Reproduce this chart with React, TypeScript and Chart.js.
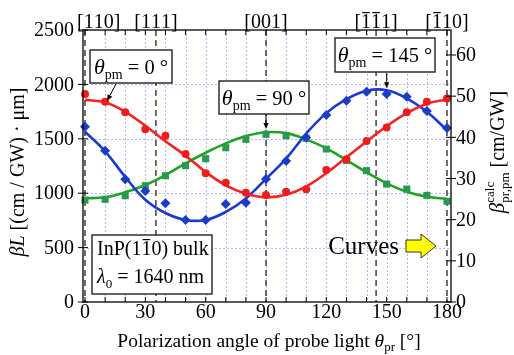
import React, { useEffect, useRef } from "react";
import { Chart, registerables } from "chart.js";

Chart.register(...registerables);

// ---------- data ----------
const ANGLES = [0, 10, 20, 30, 40, 50, 60, 70, 80, 90, 100, 110, 120, 130, 140, 150, 160, 170, 180];
const RED_PTS = [1912, 1841, 1743, 1587, 1528, 1360, 1183, 1097, 1005, 983, 1014, 1036, 1213, 1311, 1480, 1605, 1743, 1840, 1870];
const BLUE_PTS = [1611, 1391, 1128, 1020, 907, 754, 754, 901, 913, 1130, 1296, 1513, 1719, 1850, 1933, 1912, 1887, 1755, 1599];
const GREEN_PTS = [937, 944, 977, 1069, 1161, 1253, 1317, 1418, 1495, 1541, 1528, 1505, 1406, 1300, 1207, 1084, 1038, 980, 926];
const RED_FIT = [1858, 1835, 1748, 1620, 1478, 1345, 1195, 1072, 995, 962, 985, 1062, 1185, 1330, 1475, 1615, 1735, 1822, 1862];
const BLUE_FIT = [1565, 1385, 1150, 940, 818, 754, 754, 828, 952, 1132, 1318, 1548, 1736, 1864, 1942, 1947, 1872, 1748, 1580];
const GREEN_FIT = [953, 962, 1008, 1075, 1167, 1275, 1372, 1458, 1525, 1560, 1552, 1495, 1412, 1305, 1192, 1091, 1014, 968, 947];

const X_TICKS = [0, 30, 60, 90, 120, 150, 180];
const Y_TICKS = [0, 500, 1000, 1500, 2000, 2500];
const Y2_TICKS = [0, 10, 20, 30, 40, 50, 60];
const CRYSTAL_ANGLES = [0, 35.26, 90, 144.74, 180];
const CRYSTAL_LABELS = ["[110]", "[111]", "[001]", "[-1-11]", "[-110]"];
const PM_LABELS = ["0", "90", "145"];

// ---------- styling ----------
const FONT = "'Liberation Serif', 'Times New Roman', Times, serif";
const RED = "#f01c1c";
const RED_LINE = "#f52222";
const BLUE = "#1c3cc8";
const BLUE_LINE = "#1a3ad2";
const GREEN = "#279a4e";
const GREEN_LINE = "#1ea424";
const GRID = "#b6b6ee";

Chart.defaults.font.family = FONT;
Chart.defaults.font.size = 20;
Chart.defaults.color = "#000";

type Part = { t: string; s: number; i?: boolean; dy?: number; bar?: boolean; sub?: Part };

const fnt = (s: number, i?: boolean) => `${i ? "italic " : ""}${s}px ${FONT}`;

function widthOf(ctx: CanvasRenderingContext2D, parts: Part[]) {
  let w = 0;
  for (const p of parts) {
    ctx.font = fnt(p.s, p.i);
    let pw = ctx.measureText(p.t).width;
    if (p.sub) {
      ctx.font = fnt(p.sub.s, p.sub.i);
      pw = Math.max(pw, ctx.measureText(p.sub.t).width);
    }
    w += pw;
  }
  return w;
}

function drawParts(ctx: CanvasRenderingContext2D, parts: Part[], x: number, y: number, align: "left" | "center" | "right" = "left") {
  const total = widthOf(ctx, parts);
  let cx = align === "left" ? x : align === "center" ? x - total / 2 : x - total;
  ctx.textAlign = "left";
  ctx.textBaseline = "alphabetic";
  ctx.fillStyle = "#000";
  for (const p of parts) {
    ctx.font = fnt(p.s, p.i);
    const w = ctx.measureText(p.t).width;
    ctx.fillText(p.t, cx, y + (p.dy || 0));
    if (p.bar) {
      ctx.save();
      ctx.strokeStyle = "#000";
      ctx.lineWidth = 1.2;
      const by = y + (p.dy || 0) - p.s * 0.77;
      ctx.beginPath();
      ctx.moveTo(cx + w * 0.12, by);
      ctx.lineTo(cx + w * 0.88, by);
      ctx.stroke();
      ctx.restore();
    }
    let adv = w;
    if (p.sub) {
      ctx.font = fnt(p.sub.s, p.sub.i);
      const w2 = ctx.measureText(p.sub.t).width;
      ctx.fillText(p.sub.t, cx, y + (p.sub.dy || 0));
      adv = Math.max(w, w2);
    }
    cx += adv;
  }
  return total;
}

function parseBar(label: string, s: number): Part[] {
  const out: Part[] = [];
  for (let k = 0; k < label.length; k++) {
    if (label[k] === "-") {
      out.push({ t: label[k + 1], s, bar: true });
      k++;
    } else out.push({ t: label[k], s });
  }
  return out;
}

function arrow(ctx: CanvasRenderingContext2D, x1: number, y1: number, x2: number, y2: number) {
  const a = Math.atan2(y2 - y1, x2 - x1);
  const L = 6, W = 2.6;
  ctx.save();
  ctx.strokeStyle = "#000";
  ctx.fillStyle = "#000";
  ctx.lineWidth = 1;
  ctx.beginPath();
  ctx.moveTo(x1, y1);
  ctx.lineTo(x2 - Math.cos(a) * L, y2 - Math.sin(a) * L);
  ctx.stroke();
  ctx.beginPath();
  ctx.moveTo(x2, y2);
  ctx.lineTo(x2 - Math.cos(a) * L - Math.sin(a) * W, y2 - Math.sin(a) * L + Math.cos(a) * W);
  ctx.lineTo(x2 - Math.cos(a) * L + Math.sin(a) * W, y2 - Math.sin(a) * L - Math.cos(a) * W);
  ctx.closePath();
  ctx.fill();
  ctx.restore();
}

function box(ctx: CanvasRenderingContext2D, x1: number, y1: number, x2: number, y2: number) {
  ctx.save();
  ctx.fillStyle = "#fff";
  ctx.fillRect(x1, y1, x2 - x1, y2 - y1);
  ctx.strokeStyle = "#222";
  ctx.lineWidth = 1.4;
  ctx.strokeRect(x1, y1, x2 - x1, y2 - y1);
  ctx.restore();
}

const decorPlugin = {
  id: "decor",
  beforeDatasetsDraw(chart: any) {
    const ctx: CanvasRenderingContext2D = chart.ctx;
    const { left, right, top, bottom } = chart.chartArea;
    const xs = chart.scales.x;
    const ys = chart.scales.y;
    ctx.save();
    ctx.strokeStyle = GRID;
    ctx.lineWidth = 1;
    ctx.setLineDash([2, 2]);
    for (let a = 10; a <= 170; a += 10) {
      const px = Math.round(xs.getPixelForValue(a)) + 0.5;
      ctx.beginPath();
      ctx.moveTo(px, top);
      ctx.lineTo(px, bottom);
      ctx.stroke();
    }
    for (const v of Y_TICKS) {
      if (v === 0 || v === 2500) continue;
      const py = Math.round(ys.getPixelForValue(v)) + 0.5;
      ctx.beginPath();
      ctx.moveTo(left, py);
      ctx.lineTo(right, py);
      ctx.stroke();
    }
    ctx.strokeStyle = "#222";
    ctx.lineWidth = 1.3;
    ctx.setLineDash([6, 4]);
    for (const a of CRYSTAL_ANGLES) {
      const px = xs.getPixelForValue(a);
      ctx.beginPath();
      ctx.moveTo(px, top);
      ctx.lineTo(px, bottom);
      ctx.stroke();
    }
    ctx.restore();
  },
  afterDatasetsDraw(chart: any) {
    const ctx: CanvasRenderingContext2D = chart.ctx;
    const { left, right, top, bottom } = chart.chartArea;
    const xs = chart.scales.x;
    const ys = chart.scales.y;
    const y2s = chart.scales.y2;
    ctx.save();
    ctx.strokeStyle = "#000";
    ctx.lineWidth = 1.3;
    ctx.strokeRect(left, top, right - left, bottom - top);
    ctx.lineWidth = 1;
    ctx.beginPath();
    for (let a = 0; a <= 180; a += 10) {
      const px = xs.getPixelForValue(a);
      ctx.moveTo(px, top);
      ctx.lineTo(px, top + 5);
      ctx.moveTo(px, bottom);
      ctx.lineTo(px, bottom - 5);
    }
    for (const t of ys.ticks) {
      const py = ys.getPixelForValue(t.value);
      ctx.moveTo(left - 5, py);
      ctx.lineTo(left + 5, py);
    }
    for (const t of y2s.ticks) {
      const py = y2s.getPixelForValue(t.value);
      ctx.moveTo(right - 5, py);
      ctx.lineTo(right + 5, py);
    }
    ctx.stroke();

    // tick labels (serif), positioned by the chart's scales
    ctx.fillStyle = "#000";
    ctx.font = fnt(20);
    ctx.textBaseline = "middle";
    ctx.textAlign = "center";
    for (const t of xs.ticks) ctx.fillText(String(t.value), xs.getPixelForValue(t.value), 313);
    ctx.textAlign = "right";
    for (const t of ys.ticks) ctx.fillText(String(t.value), left - 9, ys.getPixelForValue(t.value) + 1);
    ctx.textAlign = "left";
    for (const t of y2s.ticks) ctx.fillText(String(t.value), right + 5, y2s.getPixelForValue(t.value) + 1);

    CRYSTAL_LABELS.forEach((lab, k) => {
      const px = xs.getPixelForValue(CRYSTAL_ANGLES[k]);
      const parts = parseBar(lab, 20);
      if (k === 0) drawParts(ctx, parts, px - 8, 28, "left");
      else drawParts(ctx, parts, px, 28, "center");
    });

    ctx.save();
    ctx.translate(24, 172);
    ctx.rotate(-Math.PI / 2);
    drawParts(ctx, [
      { t: "β", s: 20, i: true },
      { t: "L", s: 20, i: true },
      { t: " [(cm / GW) · μm]", s: 20 },
    ], 0, 0, "center");
    ctx.restore();

    ctx.save();
    ctx.translate(504, 152);
    ctx.rotate(-Math.PI / 2);
    drawParts(ctx, [
      { t: "β", s: 21, i: true },
      { t: "calc", s: 13, dy: -10, sub: { t: "pr,pm", s: 13, dy: 5 } },
      { t: " [cm/GW]", s: 20 },
    ], 0, 0, "center");
    ctx.restore();

    drawParts(ctx, [
      { t: "Polarization angle of probe light ", s: 19.5 },
      { t: "θ", s: 19.5, i: true },
      { t: "pr", s: 13, dy: 4 },
      { t: " [°]", s: 19.5 },
    ], 269, 347, "center");

    const pmParts = (v: string): Part[] => [
      { t: "θ", s: 22, i: true },
      { t: "pm", s: 14, dy: 5 },
      { t: ` = ${v} °`, s: 20.5 },
    ];
    const boxes = [
      { x1: 90, y1: 50, x2: 172, y2: 83, base: 74 },
      { x1: 219, y1: 81, x2: 309, y2: 114, base: 105 },
      { x1: 335, y1: 38, x2: 435, y2: 72, base: 62 },
    ];
    boxes.forEach((b, k) => {
      box(ctx, b.x1, b.y1, b.x2, b.y2);
      drawParts(ctx, pmParts(PM_LABELS[k]), (b.x1 + b.x2) / 2, b.base, "center");
    });
    arrow(ctx, 116, 84, xs.getPixelForValue(11), ys.getPixelForValue(1850));
    arrow(ctx, xs.getPixelForValue(90), 115, xs.getPixelForValue(90), ys.getPixelForValue(1590));
    arrow(ctx, xs.getPixelForValue(150), 73, xs.getPixelForValue(150), ys.getPixelForValue(1965));

    box(ctx, 92, 235, 212, 294);
    drawParts(ctx, [
      { t: "InP(1", s: 20 },
      { t: "1", s: 20, bar: true },
      { t: "0) bulk", s: 20 },
    ], 97, 255, "left");
    drawParts(ctx, [
      { t: "λ", s: 20, i: true },
      { t: "0", s: 13, dy: 5 },
      { t: " = 1640 nm", s: 20 },
    ], 97, 283, "left");

    drawParts(ctx, [{ t: "Curves", s: 25 }], 399, 254, "right");
    const ax0 = 406, axh = 421, axt = 436, acy = 246;
    ctx.beginPath();
    ctx.moveTo(ax0, acy - 6);
    ctx.lineTo(axh, acy - 6);
    ctx.lineTo(axh, acy - 12);
    ctx.lineTo(axt, acy);
    ctx.lineTo(axh, acy + 12);
    ctx.lineTo(axh, acy + 6);
    ctx.lineTo(ax0, acy + 6);
    ctx.closePath();
    ctx.fillStyle = "#ffff00";
    ctx.fill();
    ctx.strokeStyle = "#333";
    ctx.lineWidth = 1;
    ctx.stroke();
    ctx.restore();
  },
};

const toXY = (vals: number[]) => ANGLES.map((a, i) => ({ x: a, y: vals[i] }));

export default function App() {
  const ref = useRef<HTMLCanvasElement>(null);
  useEffect(() => {
    const canvas = ref.current;
    if (!canvas) return;
    const chart = new Chart(canvas, {
      type: "line",
      data: {
        datasets: [
          { label: "red", data: toXY(RED_PTS), showLine: false, pointStyle: "circle", pointRadius: 4, backgroundColor: RED, borderColor: RED, borderWidth: 0, order: 0, clip: 8 } as any,
          { label: "blue", data: toXY(BLUE_PTS), showLine: false, pointStyle: "rectRot", pointRadius: 5, backgroundColor: BLUE, borderColor: BLUE, borderWidth: 0, order: 0, clip: 8 } as any,
          { label: "green", data: toXY(GREEN_PTS), showLine: false, pointStyle: "rect", pointRadius: 5, backgroundColor: GREEN, borderColor: GREEN, borderWidth: 0, order: 1, clip: 8 } as any,
          { label: "red fit", data: toXY(RED_FIT), pointRadius: 0, borderColor: RED_LINE, borderWidth: 2.6, tension: 0.4, fill: false, order: 2 } as any,
          { label: "blue fit", data: toXY(BLUE_FIT), pointRadius: 0, borderColor: BLUE_LINE, borderWidth: 2.6, tension: 0.4, fill: false, order: 2 } as any,
          { label: "green fit", data: toXY(GREEN_FIT), pointRadius: 0, borderColor: GREEN_LINE, borderWidth: 2.6, tension: 0.4, fill: false, order: 2 } as any,
        ],
      },
      options: {
        animation: false,
        responsive: false,
        devicePixelRatio: 1,
        layout: { padding: { top: 30, left: 0, right: 0, bottom: 0 } },
        plugins: { legend: { display: false }, tooltip: { enabled: false } },
        events: [],
        scales: {
          x: {
            type: "linear",
            min: -1,
            max: 182,
            position: "bottom",
            grid: { display: false, drawTicks: false },
            border: { display: false },
            ticks: { display: false, autoSkip: false },
            afterBuildTicks: (s: any) => { s.ticks = X_TICKS.map((v) => ({ value: v })); },
            afterFit: (s: any) => { s.height = 53; },
          },
          y: {
            type: "linear",
            min: 0,
            max: 2500,
            position: "left",
            grid: { display: false, drawTicks: false },
            border: { display: false },
            ticks: { display: false, autoSkip: false },
            afterBuildTicks: (s: any) => { s.ticks = Y_TICKS.map((v) => ({ value: v })); },
            afterFit: (s: any) => { s.width = 83; },
          },
          y2: {
            type: "linear",
            min: 0,
            max: 66.07,
            position: "right",
            grid: { display: false, drawTicks: false },
            border: { display: false },
            ticks: { display: false, autoSkip: false },
            afterBuildTicks: (s: any) => { s.ticks = Y2_TICKS.map((v) => ({ value: v })); },
            afterFit: (s: any) => { s.width = 63; },
          },
        },
      } as any,
      plugins: [decorPlugin],
    });
    return () => chart.destroy();
  }, []);
  return (
    <div style={{ position: "fixed", left: 0, top: 0, width: 514, height: 355, background: "#fff" }}>
      <canvas ref={ref} width={514} height={355} style={{ display: "block", width: 514, height: 355 }} />
    </div>
  );
}
